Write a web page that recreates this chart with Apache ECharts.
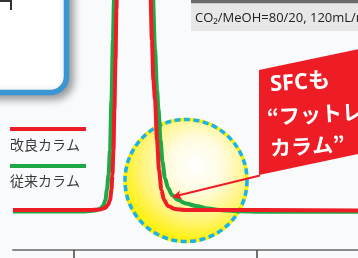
<!DOCTYPE html>
<html>
<head>
<meta charset="utf-8">
<script src="https://cdn.jsdelivr.net/npm/echarts@6/dist/echarts.min.js"></script>
<style>
  html, body { margin: 0; padding: 0; background: #f9fafc; }
  #main { width: 358px; height: 258px; }
</style>
</head>
<body>
<div id="main"></div>
<script>
// retention time (min) / detector signal
const redTime = [0.667, 1.087, 1.142, 1.169, 1.186, 1.197, 1.205, 1.210, 1.216, 1.221, 1.227, 1.232, 1.236, 1.328,
  1.416, 1.426, 1.434, 1.443, 1.454, 1.465, 1.478, 1.492, 1.514, 1.552, 1.607, 2.552];
const redSignal = [0, 0, 0.25, 1, 2.5, 5, 10, 17.5, 30, 50, 75, 100, 120, 400,
  115, 85, 65, 55, 35, 20, 10, 5, 2, 0.5, 0, -0.2];

const greenTime = [0.667, 1.060, 1.115, 1.142, 1.159, 1.172, 1.180, 1.189, 1.197, 1.205, 1.213, 1.219, 1.223, 1.328,
  1.430, 1.443, 1.454, 1.462, 1.473, 1.484, 1.497, 1.514, 1.536, 1.568, 1.612, 1.667, 1.732, 1.809, 1.907, 2.016, 2.552];
const greenSignal = [-0.7, -0.7, -0.3, 0.5, 2, 5, 10, 17.5, 30, 55, 85, 105, 120, 400,
  110, 80, 60, 50, 35, 24, 16, 11, 7.5, 5, 3.25, 2, 0.75, -0.1, -0.65, -0.85, -0.9];

const xTicks = [1, 2];
const legendNames = ['改良カラム', '従来カラム'];
const conditionText = 'CO₂/MeOH=80/20, 120mL/min';
const calloutLines = ['SFCも', '“フットレス', 'カラム”'];

const RED = '#ee1c25';
const GREEN = '#1fa846';

function pairs(xs, ys) {
  return xs.map((x, i) => [x, ys[i]]);
}

const chart = echarts.init(document.getElementById('main'), null, { renderer: 'canvas' });

const option = {
  backgroundColor: '#f9fafc',
  animation: false,
  grid: { left: 13, right: 0, top: 0, bottom: 8 },
  xAxis: {
    type: 'value',
    min: 0.667,
    max: 2.552,
    axisLine: { show: true, onZero: false, lineStyle: { color: '#8a8a8a', width: 2 } },
    axisTick: { show: true, customValues: xTicks, length: 10, inside: false, lineStyle: { color: '#444', width: 1.5 } },
    axisLabel: { show: false },
    splitLine: { show: false }
  },
  yAxis: {
    type: 'value',
    min: -20,
    max: 105,
    show: false,
    splitLine: { show: false }
  },
  series: [
    {
      name: legendNames[1],
      type: 'line',
      data: pairs(greenTime, greenSignal),
      showSymbol: false,
      smooth: 0.3,
      smoothMonotone: 'x',
      lineStyle: { color: GREEN, width: 4 },
      z: 3
    },
    {
      name: legendNames[0],
      type: 'line',
      data: pairs(redTime, redSignal),
      showSymbol: false,
      smooth: 0.3,
      smoothMonotone: 'x',
      lineStyle: { color: RED, width: 4 },
      z: 4
    }
  ],
  graphic: [
    // highlight circle
    {
      type: 'circle', z: 0,
      shape: { cx: 186, cy: 180.5, r: 61 },
      style: {
        fill: new echarts.graphic.RadialGradient(0.58, 0.38, 0.62, [
          { offset: 0, color: '#ffffff' },
          { offset: 0.35, color: '#fffbe0' },
          { offset: 0.7, color: '#fff47a' },
          { offset: 1, color: '#fff000' }
        ]),
        stroke: '#fff000', lineWidth: 3.5
      }
    },
    {
      type: 'circle', z: 1,
      shape: { cx: 186, cy: 180.5, r: 61 },
      style: { fill: null, stroke: '#1ab2ea', lineWidth: 3.5, lineDash: [6, 3.5] }
    },
    // top-left framed box
    {
      type: 'rect', z: 1,
      shape: { x: -30, y: -30, width: 96.5, height: 122.5, r: 16 },
      style: {
        fill: '#ffffff', stroke: '#3a96d2', lineWidth: 5.5,
        shadowBlur: 8, shadowOffsetX: 4, shadowOffsetY: 4, shadowColor: 'rgba(0,0,0,0.35)'
      }
    },
    {
      type: 'polyline', z: 2,
      shape: { points: [[0, 1], [11, 1], [11, 10]] },
      style: { stroke: '#333', lineWidth: 2, fill: null }
    },
    // condition bar
    {
      type: 'rect', z: 1,
      shape: { x: 191, y: 0, width: 200, height: 31 },
      style: { fill: '#e7e7e7' }
    },
    {
      type: 'rect', z: 2,
      shape: { x: 191, y: 0, width: 200, height: 3.3 },
      style: { fill: '#6b6b6b' }
    },
    {
      type: 'text', z: 3, x: 195, y: 18,
      style: { text: conditionText, fill: '#222', font: '13px "Open Sans"', align: 'left', verticalAlign: 'middle' }
    },
    // legend
    {
      type: 'line', z: 2,
      shape: { x1: 10, y1: 129, x2: 86, y2: 129 },
      style: { stroke: RED, lineWidth: 4 }
    },
    {
      type: 'text', z: 2, x: 10, y: 145,
      style: { text: legendNames[0], fill: '#3a3a3a', font: '14px "Noto Sans CJK JP"', align: 'left', verticalAlign: 'middle' }
    },
    {
      type: 'line', z: 2,
      shape: { x1: 10, y1: 166, x2: 86, y2: 166 },
      style: { stroke: GREEN, lineWidth: 4 }
    },
    {
      type: 'text', z: 2, x: 10, y: 181,
      style: { text: legendNames[1], fill: '#3a3a3a', font: '14px "Noto Sans CJK JP"', align: 'left', verticalAlign: 'middle' }
    },
    // callout + arrow
    {
      type: 'polygon', z: 10,
      shape: { points: [[259, 70], [372, 46.3], [372, 151], [259, 175]] },
      style: { fill: RED }
    },
    {
      type: 'line', z: 10,
      shape: { x1: 260, y1: 175.5, x2: 176, y2: 196 },
      style: { stroke: RED, lineWidth: 2 }
    },
    {
      type: 'polygon', z: 10,
      shape: { points: [[172, 197], [182, 199.5], [179, 194.6], [180, 190.5]] },
      style: { fill: RED }
    },
    {
      type: 'text', z: 11, x: 270, y: 85, rotation: 0.07,
      style: { text: calloutLines[0], fill: '#fff', font: 'bold 22px "Open Sans", "Noto Sans CJK JP"', align: 'left', verticalAlign: 'middle' }
    },
    {
      type: 'text', z: 11, x: 267, y: 117, rotation: 0.06,
      style: { text: calloutLines[1], fill: '#fff', font: 'bold 21px "Noto Sans CJK JP"', align: 'left', verticalAlign: 'middle' }
    },
    {
      type: 'text', z: 11, x: 270, y: 148, rotation: 0.06,
      style: { text: calloutLines[2], fill: '#fff', font: 'bold 21px "Noto Sans CJK JP"', align: 'left', verticalAlign: 'middle' }
    }
  ]
};

chart.setOption(option);
</script>
</body>
</html>
